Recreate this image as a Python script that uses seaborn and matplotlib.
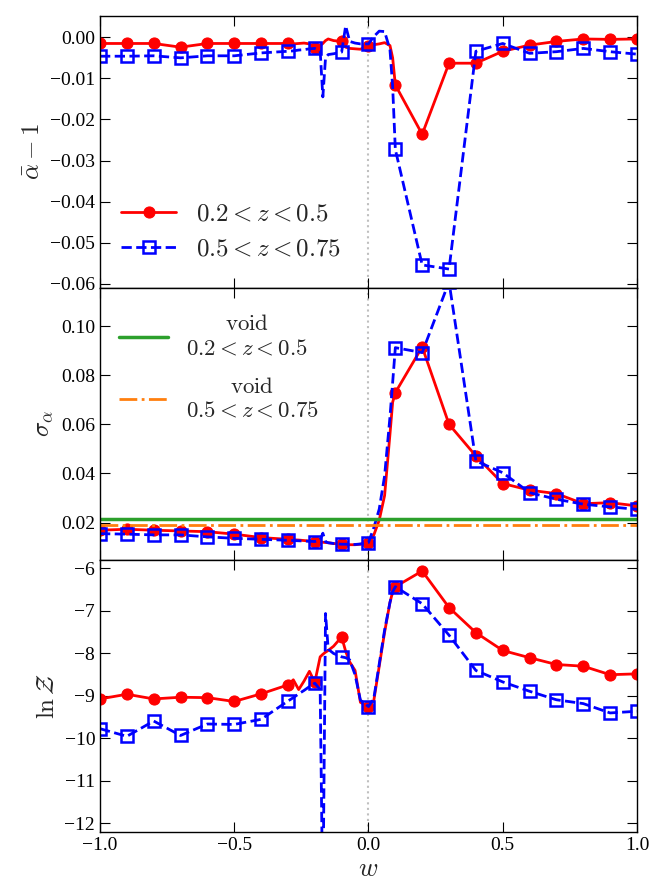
import numpy as np
import matplotlib
matplotlib.use('Agg')
import matplotlib.pyplot as plt
from matplotlib.ticker import FuncFormatter
import seaborn as sns

# w grid of the curves; markers sit on the multiples of 0.1
w = [-1.0, -0.9, -0.8, -0.7, -0.6, -0.5, -0.4, -0.3,
     -0.28, -0.26, -0.24, -0.22, -0.2,
     -0.18, -0.17, -0.16, -0.15, -0.13, -0.1,
     -0.085, -0.07, -0.05, -0.03, 0.0,
     0.02, 0.04, 0.06, 0.08, 0.09,
     0.1, 0.2, 0.3, 0.4, 0.5, 0.6, 0.7, 0.8, 0.9, 1.0]

alpha_lo = [-0.0015, -0.0015, -0.0015, -0.0024, -0.0015, -0.0015, -0.0015, -0.0015,
            -0.0016, -0.0015, -0.0014, -0.0016, -0.0025,
            -0.0020, -0.0015, -0.0008, -0.0004, -0.0008, -0.0010,
            -0.0024, -0.0027, -0.0028, -0.0029, -0.0020,
            -0.0018, -0.0016, -0.0013, -0.0020, -0.0050,
            -0.0116, -0.0236, -0.0063, -0.0063, -0.0034, -0.0019, -0.0010, -0.0004, -0.0005, -0.0004]
alpha_hi = [-0.0046, -0.0046, -0.0045, -0.0050, -0.0045, -0.0045, -0.0038, -0.0034,
            -0.0033, -0.0031, -0.0030, -0.0028, -0.0027,
            -0.0033, -0.0145, -0.0050, -0.0042, -0.0040, -0.0036,
            0.0028, -0.0010, -0.0014, -0.0016, -0.0016,
            0.0002, 0.0015, 0.0014, -0.0030, -0.0120,
            -0.0273, -0.0554, -0.0564, -0.0034, -0.0015, -0.0039, -0.0035, -0.0027, -0.0035, -0.0041]

sigma_lo = [0.0169, 0.0173, 0.0169, 0.0166, 0.0163, 0.0153, 0.0139, 0.0132,
            0.0130, 0.0129, 0.0127, 0.0125, 0.0123,
            0.0121, 0.0120, 0.0119, 0.0118, 0.0115, 0.0112,
            0.0111, 0.0110, 0.0110, 0.0112, 0.0119,
            0.0150, 0.0210, 0.0310, 0.0560, 0.0690,
            0.0729, 0.0915, 0.0600, 0.0471, 0.0359, 0.0332, 0.0318, 0.0277, 0.0281, 0.0268]
sigma_hi = [0.0155, 0.0153, 0.0150, 0.0150, 0.0142, 0.0136, 0.0132, 0.0128,
            0.0127, 0.0126, 0.0125, 0.0124, 0.0123,
            0.0130, 0.0157, 0.0122, 0.0118, 0.0115, 0.0112,
            0.0112, 0.0111, 0.0111, 0.0113, 0.0119,
            0.0180, 0.0255, 0.0390, 0.0630, 0.0770,
            0.0912, 0.0892, 0.1180, 0.0451, 0.0403, 0.0322, 0.0295, 0.0275, 0.0264, 0.0254]
void_lo = 0.0214
void_hi = 0.0189

lnz_lo = [-9.07, -8.96, -9.07, -9.03, -9.04, -9.13, -8.95, -8.74,
          -8.62, -8.85, -8.65, -8.42, -8.68,
          -8.08, -8.02, -7.97, -7.93, -7.83, -7.61,
          -7.95, -8.20, -8.40, -9.15, -9.25,
          -9.10, -8.30, -7.50, -6.80, -6.55,
          -6.43, -6.06, -6.92, -7.51, -7.93, -8.10, -8.26, -8.30, -8.50, -8.48]
lnz_hi = [-9.77, -9.95, -9.59, -9.93, -9.66, -9.67, -9.55, -9.12,
          -9.04, -8.95, -8.87, -8.78, -8.70,
          -8.85, -14.0, -7.06, -7.90, -8.00, -8.08,
          -8.10, -8.15, -8.50, -9.10, -9.25,
          -9.05, -8.25, -7.45, -6.80, -6.55,
          -6.43, -6.83, -7.57, -8.40, -8.67, -8.89, -9.09, -9.18, -9.40, -9.36]

lab_lo = r'$0.2<z<0.5$'
lab_hi = r'$0.5<z<0.75$'

sns.set_style('ticks')
plt.rcParams.update({
    'font.family': ['Liberation Serif', 'DejaVu Serif'],
    'mathtext.fontset': 'cm',
    'xtick.direction': 'in', 'ytick.direction': 'in',
    'xtick.top': True, 'ytick.right': True,
    'xtick.major.size': 7, 'ytick.major.size': 7,
    'xtick.labelsize': 14, 'ytick.labelsize': 14,
    'axes.linewidth': 1.0, 'axes.edgecolor': 'black',
    'xtick.color': 'black', 'ytick.color': 'black',
})


def fmt(nd):
    def f(v, pos):
        s = f'{v:.{nd}f}'
        if float(s) == 0:
            s = s.lstrip('-')
        return s.replace('-', '\u2212')
    return FuncFormatter(f)


mark = [abs(round(v * 10) - v * 10) < 1e-9 for v in w]

fig, axes = plt.subplots(3, 1, figsize=(6.64, 8.86), dpi=100, sharex=True)
fig.subplots_adjust(left=0.1506, right=0.9593, top=0.982, bottom=0.061, hspace=0)

panels = [(alpha_lo, alpha_hi), (sigma_lo, sigma_hi), (lnz_lo, lnz_hi)]
for ax, (ylo, yhi) in zip(axes, panels):
    ax.axvline(0, color='0.75', ls=':', lw=1.5, zorder=0)
    sns.lineplot(x=w, y=ylo, ax=ax, color='red', lw=2, marker='o', ms=8,
                 mec='red', markevery=mark, label=lab_lo, errorbar=None, sort=False)
    sns.lineplot(x=w, y=yhi, ax=ax, color='blue', lw=2, ls='--', marker='s', ms=8,
                 mec='blue', mfc='none', mew=1.8, markevery=mark, label=lab_hi,
                 errorbar=None, sort=False)
    ax.set_xlim(-1.0, 1.0)
    ax.set_xticks([-1.0, -0.5, 0.0, 0.5, 1.0])

ax1, ax2, ax3 = axes
ax1.set_ylim(-0.061, 0.0052)
ax1.set_yticks(np.arange(-0.06, 0.001, 0.01))
ax1.yaxis.set_major_formatter(fmt(2))
ax1.set_ylabel(r'$\bar{\alpha}-1$', fontsize=18)
ax1.legend(loc='lower left', bbox_to_anchor=(0.0, 0.022), frameon=False, numpoints=1,
           fontsize=18, handlelength=2.2, borderaxespad=0.45)

ax2.set_ylim(0.0048, 0.1155)
ax2.set_yticks([0.02, 0.04, 0.06, 0.08, 0.10])
ax2.yaxis.set_major_formatter(fmt(2))
ax2.set_ylabel(r'$\sigma_\alpha$', fontsize=18)
g = ax2.axhline(void_lo, color='#2ca02c', lw=2.5, label='$\\mathrm{void}$\n' + lab_lo)
o = ax2.axhline(void_hi, color='#ff7f0e', lw=2, ls='-.', label='$\\mathrm{void}$\n' + lab_hi)
leg = ax2.legend(handles=[g, o], loc='upper left', bbox_to_anchor=(0.0, 0.975),
                 frameon=False, fontsize=16.5, handlelength=2.1, labelspacing=0.75,
                 borderaxespad=0.45)
for t in leg.get_texts():
    t.set_multialignment('center')

ax3.set_ylim(-12.2, -5.8)
ax3.set_yticks([-12, -11, -10, -9, -8, -7, -6])
ax3.yaxis.set_major_formatter(fmt(0))
ax3.set_ylabel(r'$\ln\mathcal{Z}$', fontsize=18)
ax3.set_xlabel(r'$w$', fontsize=19)
if ax3.get_legend():
    ax3.get_legend().remove()

ax3.xaxis.set_major_formatter(fmt(1))

fig.savefig('out.png', dpi=100)
